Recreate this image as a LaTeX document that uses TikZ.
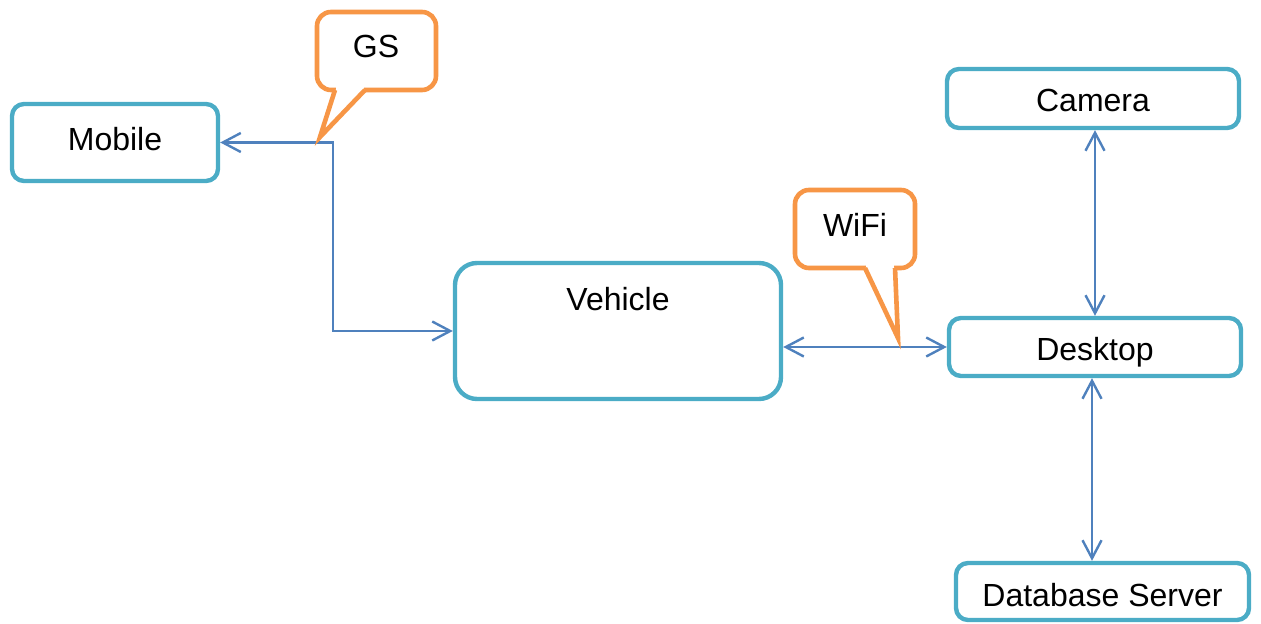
\documentclass[tikz,border=0pt]{standalone}
\usepackage{fontspec}
\setmainfont{Liberation Sans}
\usetikzlibrary{arrows.meta,calc}
\definecolor{boxteal}{HTML}{4BACC6}
\definecolor{calloutorange}{HTML}{F79646}
\definecolor{linkblue}{HTML}{4F81BD}
\begin{document}
\begin{tikzpicture}[x=0.5pt,y=-0.5pt,
  labeltext/.style={font=\fontsize{16}{19}\selectfont, text height=11.5pt, text depth=3.4pt, inner sep=0pt},
  lowtext/.style={text height=#1},
  unit/.style={labeltext, draw=boxteal, line width=2.2pt, rounded corners=6pt, fill=white},
  barb/.tip={Straight Barb[length=9pt,width=9.5pt]},
  link/.style={draw=linkblue, line width=1.2pt, barb-barb},
  callout/.style={draw=calloutorange, line width=2.3pt, line join=round, fill=white, rounded corners=7pt},
  tail/.style={draw=calloutorange, line width=2.3pt, line join=miter, fill=white}]
\useasboundingbox (0,0) rectangle (1261,624);

% system components
\node[unit, minimum width=103pt, minimum height=38.5pt] (mob) at (115,142.5) {Mobile};
\node[unit, minimum width=163pt, minimum height=68pt, rounded corners=11pt,
      label={[labeltext, yshift=14.25pt]center:Vehicle}] (veh) at (618,331) {};
\node[unit, lowtext=16.5pt, minimum width=146pt, minimum height=29.5pt] (cam) at (1093,98.5) {Camera};
\node[unit, lowtext=16.5pt, minimum width=146pt, minimum height=29pt] (desk) at (1095,347) {Desktop};
\node[unit, lowtext=18.5pt, minimum width=146.5pt, minimum height=28.5pt] (db) at (1102.5,591.5) {Database Server};

% links between components
\coordinate (gsjoint) at (333,142.5);
\draw[link] (mob.east) -- (gsjoint) |- (veh.west);
\draw[link] (veh.east |- desk.west) -- (desk.west);
\draw[link] (desk.north) -- (desk.north |- cam.south);
\draw[link] ([xshift=-1.5pt]desk.south) -- ([xshift=-1.5pt]desk.south |- db.north);

% GS callout
\draw[callout] (317,12) rectangle (436,90);
\fill[white] (336,86) rectangle (364,93);
\draw[tail] (335,90) -- (320,137) -- (365,90);
\node[labeltext] (gs) at (376,49.5) {GS};

% WiFi callout
\draw[callout] (795,190) rectangle (915,268);
\fill[white] (866,264) rectangle (894,271);
\draw[tail] (865,268) -- (898,338) -- (895,268);
\node[labeltext] (wifi) at (855,228) {WiFi};
\end{tikzpicture}
\end{document}
